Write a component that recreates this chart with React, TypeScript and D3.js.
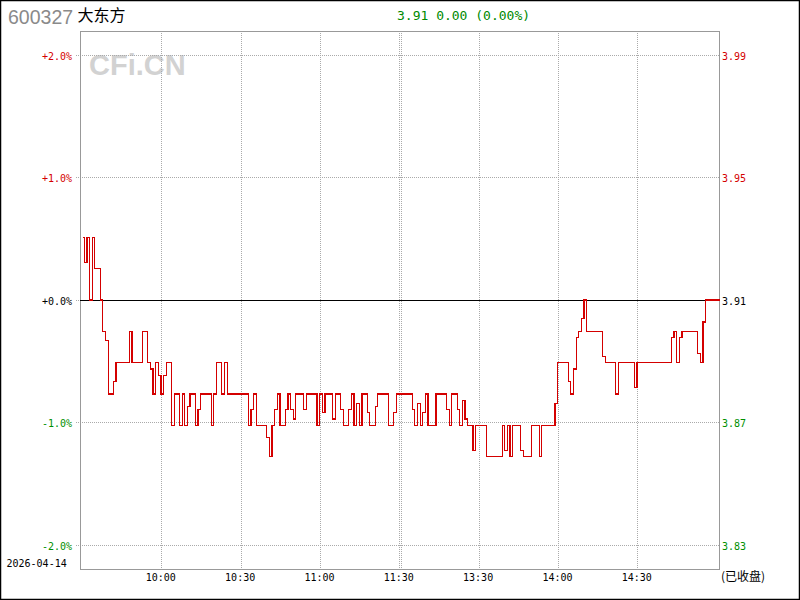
import React from 'react';
import * as d3 from 'd3';

const prevClose = 3.91;

// minute prices 09:30 .. 15:00 (241 points)
const prices: number[] = [
  3.930, 3.922, 3.930, 3.910, 3.930, 3.920, 3.920, 3.910, 3.900, 3.897,
  3.880, 3.880, 3.884, 3.890, 3.890, 3.890, 3.890, 3.890, 3.900, 3.890,
  3.890, 3.890, 3.890, 3.900, 3.900, 3.890, 3.888, 3.880, 3.890, 3.886,
  3.880, 3.886, 3.890, 3.890, 3.870, 3.880, 3.880, 3.870, 3.880, 3.870,
  3.876, 3.880, 3.880, 3.870, 3.875, 3.880, 3.880, 3.880, 3.880, 3.870,
  3.880, 3.890, 3.890, 3.880, 3.890, 3.880, 3.880, 3.880, 3.880, 3.880,
  3.880, 3.880, 3.880, 3.870, 3.875, 3.880, 3.870, 3.870, 3.870, 3.870,
  3.866, 3.860, 3.870, 3.875, 3.880, 3.870, 3.870, 3.875, 3.880, 3.875,
  3.872, 3.880, 3.880, 3.880, 3.875, 3.880, 3.880, 3.880, 3.880, 3.870,
  3.880, 3.874, 3.880, 3.880, 3.880, 3.872, 3.880, 3.880, 3.875, 3.870,
  3.870, 3.875, 3.880, 3.870, 3.877, 3.870, 3.880, 3.880, 3.874, 3.870,
  3.870, 3.876, 3.880, 3.880, 3.880, 3.880, 3.870, 3.870, 3.874, 3.880,
  3.880, 3.880, 3.880, 3.880, 3.880, 3.875, 3.870, 3.877, 3.870, 3.874,
  3.880, 3.870, 3.870, 3.870, 3.880, 3.880, 3.880, 3.880, 3.875, 3.870,
  3.880, 3.880, 3.875, 3.870, 3.878, 3.872, 3.870, 3.870, 3.862, 3.870,
  3.870, 3.870, 3.870, 3.860, 3.860, 3.860, 3.860, 3.860, 3.860, 3.870,
  3.862, 3.870, 3.860, 3.870, 3.870, 3.870, 3.862, 3.860, 3.860, 3.860,
  3.870, 3.870, 3.870, 3.860, 3.870, 3.870, 3.870, 3.870, 3.870, 3.877,
  3.890, 3.890, 3.890, 3.890, 3.884, 3.880, 3.888, 3.898, 3.900, 3.904,
  3.910, 3.900, 3.900, 3.900, 3.900, 3.900, 3.900, 3.892, 3.890, 3.890,
  3.890, 3.890, 3.880, 3.890, 3.890, 3.890, 3.890, 3.890, 3.890, 3.882,
  3.890, 3.890, 3.890, 3.890, 3.890, 3.890, 3.890, 3.890, 3.890, 3.890,
  3.890, 3.890, 3.890, 3.898, 3.900, 3.890, 3.898, 3.900, 3.900, 3.900,
  3.900, 3.900, 3.900, 3.893, 3.890, 3.903, 3.910, 3.910, 3.910, 3.910,
  3.910,
];

const pctTicks = [2, 1, 0, -1, -2];
const pctLabels = ['+2.0%', '+1.0%', '+0.0%', '-1.0%', '-2.0%'];
const priceLabels = ['3.99', '3.95', '3.91', '3.87', '3.83'];
const timeTicks = [30, 60, 90, 120, 150, 180, 210];
const timeLabels = ['10:00', '10:30', '11:00', '11:30', '13:30', '14:00', '14:30'];

const RED = '#d40000';
const GREEN = '#008f00';
const MONO = '"DejaVu Sans Mono", "Liberation Mono", monospace';
const CJK = '"Noto Sans CJK SC", "Noto Sans", sans-serif';

export default function App() {
  const left = 80, right = 720, top = 31, bottom = 569;
  const x = d3.scaleLinear().domain([0, 240]).range([83, 717.6]);
  const y = d3.scaleLinear().domain([-2, 2]).range([545, 55]);
  const pct = (p: number) => (p / prevClose - 1) * 100;
  const line = d3
    .line<number>()
    .x((_d, i) => x(i))
    .y((d) => y(pct(d)))
    .curve(d3.curveStep);
  const path = line(prices) || '';
  const gy = (v: number) => Math.floor(y(v)) + 0.5;
  const color = (v: number) => (v > 0 ? RED : v < 0 ? GREEN : '#000');

  return (
    <svg
      width={800}
      height={600}
      style={{ position: 'absolute', left: 0, top: 0, background: '#fff', display: 'block' }}
    >
      <rect x={0} y={0} width={800} height={600} fill="#fff" />
      <rect x={0.5} y={0.5} width={799} height={599} fill="none" stroke="#000" strokeWidth={1.5} />

      {/* header */}
      <text x={8} y={24} fontFamily='"Liberation Sans", Arial, sans-serif' fontSize={19.5} fill="#8a8a8a">
        600327
      </text>
      <text x={77.5} y={20.5} fontFamily={CJK} fontSize={16} fill="#000">
        大东方
      </text>
      <text x={397} y={19.7} fontFamily={MONO} fontSize={13} fill="#008a00">
        3.91 0.00 (0.00%)
      </text>

      {/* watermark */}
      <text
        x={89}
        y={75}
        fontFamily='"Liberation Sans", Arial, sans-serif'
        fontWeight="bold"
        fontSize={29}
        fill="#d2d2d2"
      >
        CFi.CN
      </text>

      {/* horizontal grid */}
      {pctTicks.map((v) => (
        <line
          key={v}
          x1={76}
          x2={v === 0 ? left : right}
          y1={gy(v)}
          y2={gy(v)}
          stroke="#aaa"
          strokeDasharray="1,1"
        />
      ))}

      {/* vertical grid */}
      {timeTicks.map((t) => {
        const xv = Math.round(x(t));
        if (t === 120) {
          return (
            <g key={t}>
              <line x1={xv - 0.5} x2={xv - 0.5} y1={top} y2={bottom} stroke="#aaa" strokeDasharray="1,1" />
              <line x1={xv + 1.5} x2={xv + 1.5} y1={top} y2={bottom} stroke="#aaa" strokeDasharray="1,1" />
            </g>
          );
        }
        return (
          <line key={t} x1={xv - 0.5} x2={xv - 0.5} y1={top} y2={bottom} stroke="#aaa" strokeDasharray="1,1" />
        );
      })}

      {/* frame */}
      <rect x={left + 0.5} y={top + 0.5} width={right - left - 1} height={bottom - top} fill="none" stroke="#999" />

      {/* zero line */}
      <line x1={left} x2={right} y1={gy(0)} y2={gy(0)} stroke="#000" strokeWidth={1} />

      {/* price line */}
      <path d={path} fill="none" stroke={RED} strokeWidth={1.2} shapeRendering="crispEdges" />
      <line
        x1={x(240)}
        x2={right}
        y1={y(pct(prices[240]))}
        y2={y(pct(prices[240]))}
        stroke={RED}
        strokeWidth={1.2}
        shapeRendering="crispEdges"
      />

      {/* left labels */}
      {pctTicks.map((v, i) => (
        <text key={'l' + v} x={72} y={gy(v) + 4} textAnchor="end" fontFamily={MONO} fontSize={10} fill={color(v)}>
          {pctLabels[i]}
        </text>
      ))}
      {/* right labels */}
      {pctTicks.map((v, i) => (
        <text key={'r' + v} x={722} y={gy(v) + 4} fontFamily={MONO} fontSize={10} fill={color(v)}>
          {priceLabels[i]}
        </text>
      ))}

      {/* time labels */}
      {timeTicks.map((t, i) => (
        <text key={'t' + t} x={x(t) - 1.5} y={581} textAnchor="middle" fontFamily={MONO} fontSize={10} fill="#000">
          {timeLabels[i]}
        </text>
      ))}
      <text x={6.5} y={566.5} fontFamily={MONO} fontSize={10} fill="#000">
        2026-04-14
      </text>
      <text x={721} y={581} fontFamily={CJK} fontSize={12} fill="#000">
        (已收盘)
      </text>
    </svg>
  );
}
